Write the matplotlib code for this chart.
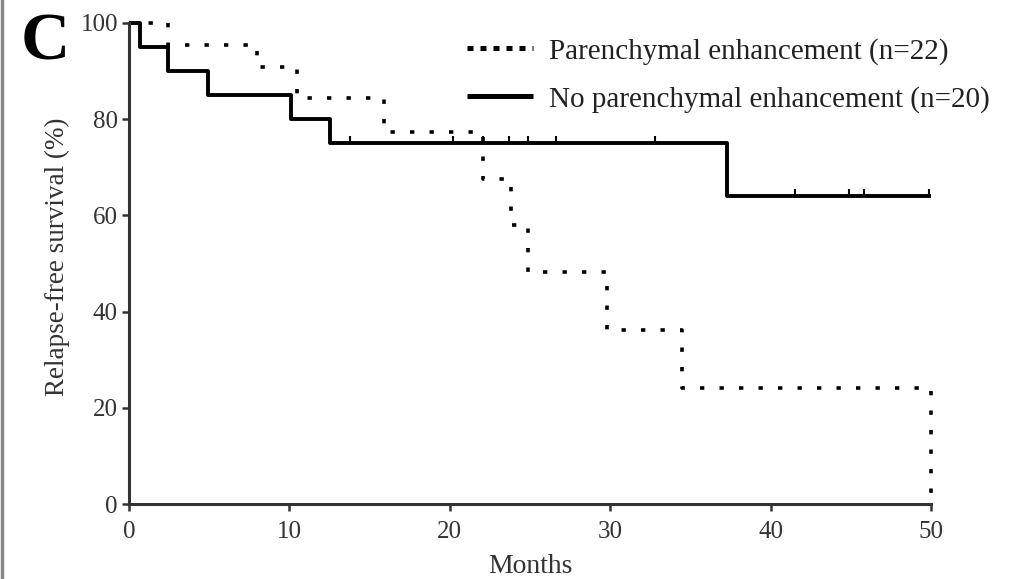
import numpy as np
import matplotlib
matplotlib.use('Agg')
import matplotlib.pyplot as plt
from matplotlib.lines import Line2D

plt.rcParams['font.family'] = ['Liberation Serif', 'DejaVu Serif']

# Kaplan-Meier steps (months, % surviving)
pe_times = [0, 2.4, 8.0, 10.5, 15.9, 22.1, 23.8, 24.9, 29.8, 34.5, 50]
pe_surv = [100, 95.5, 90.9, 84.4, 77.3, 67.6, 58.0, 48.3, 36.2, 24.2, 0]

npe_times = [0, 0.7, 2.4, 4.9, 10.1, 12.5, 37.3, 50]
npe_surv = [100, 95, 90, 85, 80, 75, 64, 64]
npe_censor = [13.8, 20.2, 22.1, 23.7, 24.9, 26.6, 32.8, 41.5, 44.9, 45.8, 49.9]

labels = ['Parenchymal enhancement (n=22)', 'No parenchymal enhancement (n=20)']
xticks = [0, 10, 20, 30, 40, 50]
yticks = [0, 20, 40, 60, 80, 100]

fig = plt.figure(figsize=(10.11, 5.79), dpi=100)
ax = fig.add_axes([0.1276, 0.1295, 0.7933, 0.8308])

ax.step(npe_times, npe_surv, where='post', color='black', lw=2.8,
        solid_capstyle='butt', clip_on=False)
ax.step(pe_times, pe_surv, where='post', color='black', lw=2.6,
        linestyle=(0, (1.2, 4.2)), dash_capstyle='butt', clip_on=False)

# censor marks on the solid curve
cens_y = [npe_surv[np.searchsorted(npe_times, t, side='right') - 1]
          for t in npe_censor]
ax.plot(npe_censor, np.array(cens_y) + 0.8, ls='none', marker='|', ms=4,
        mew=1.5, color='black', clip_on=False)

ax.set_xlim(0, 50)
ax.set_ylim(0, 100)
ax.set_xticks(xticks)
ax.set_yticks(yticks)
for s in ['top', 'right']:
    ax.spines[s].set_visible(False)
for s in ['left', 'bottom']:
    ax.spines[s].set_linewidth(2.2)
    ax.spines[s].set_color('#333333')
ax.tick_params(direction='out', length=5, width=1.8, colors='#333333',
               labelsize=18, labelcolor='#333333')
ax.tick_params(axis='x', pad=7)
ax.tick_params(axis='y', pad=3)
ax.set_xlabel('Months', fontsize=20, color='#333333', labelpad=8)
ax.set_ylabel('Relapse-free survival (%)', fontsize=19.5, color='#333333')
ax.yaxis.set_label_coords(-0.0736, 0.515)

handles = [
    Line2D([], [], color='black', lw=3.6, linestyle=(0, (1.2, 1.4)),
           dash_capstyle='butt'),
    Line2D([], [], color='black', lw=3.6, solid_capstyle='butt'),
]
fig.legend(handles, labels, loc='upper left',
           bbox_to_anchor=(467 / 1011, 1 - 38 / 579), frameon=False,
           fontsize=21, handlelength=2.25, handletextpad=0.55,
           labelspacing=0.72, borderaxespad=0, borderpad=0,
           labelcolor='#222222')

fig.text(0.02, 1 - 60 / 579, 'C', fontsize=49, fontweight='bold',
         va='baseline', ha='left')

# grey border on the left edge of the panel
fig.add_artist(Line2D([0.002, 0.002], [0, 1], color='#888888', lw=2.5,
                      transform=fig.transFigure))

fig.savefig('out.png', dpi=100)
